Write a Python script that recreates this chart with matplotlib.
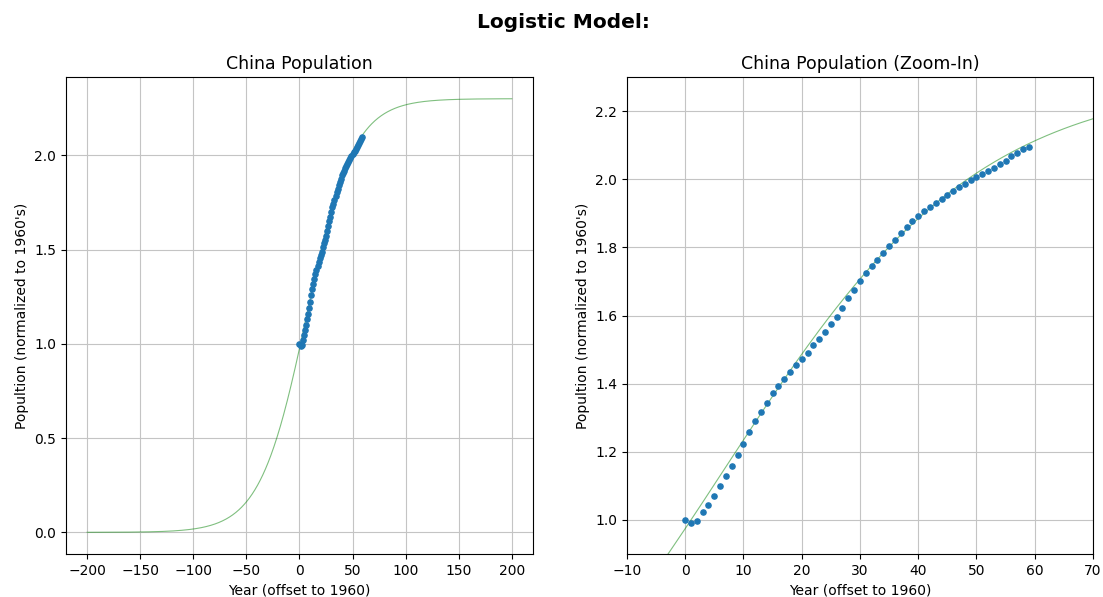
import matplotlib
matplotlib.use('Agg')
import matplotlib.pyplot as plt
import numpy as np

# year offsets to 1960 and population normalized to 1960
years = list(range(60))
population = [1.000, 0.990, 0.996, 1.022, 1.044, 1.071, 1.101, 1.130, 1.158, 1.190,
              1.224, 1.258, 1.289, 1.318, 1.343, 1.372, 1.392, 1.415, 1.435, 1.454,
              1.472, 1.489, 1.513, 1.532, 1.552, 1.574, 1.597, 1.623, 1.650, 1.675,
              1.701, 1.724, 1.744, 1.764, 1.783, 1.804, 1.823, 1.842, 1.860, 1.876,
              1.893, 1.908, 1.919, 1.930, 1.942, 1.954, 1.965, 1.977, 1.987, 1.997,
              2.006, 2.015, 2.025, 2.034, 2.044, 2.054, 2.067, 2.078, 2.088, 2.095]

# fitted logistic model parameters
K = 2.30      # carrying capacity
r = 0.0455    # growth rate
t_mid = 6.76  # midpoint year offset


def logistic(t):
    return K / (1 + np.exp(-r * (t - t_mid)))


t_model = np.linspace(-200, 200, 801)

fig = plt.figure(figsize=(11.03, 5.97), dpi=100)
fig.suptitle('Logistic Model:', fontsize=14.5, fontweight='bold', x=0.511, y=0.978)

ax1 = fig.add_axes([0.0598, 0.072, 0.4234, 0.799])
ax2 = fig.add_axes([0.5684, 0.072, 0.4225, 0.799])

for ax in (ax1, ax2):
    ax.plot(t_model, logistic(t_model), 'g-', lw=0.8, alpha=0.5)
    ax.plot(years, population, '.', color='#1f77b4', ms=7.5)
    ax.grid(True, color='#c4c4c4')
    ax.set_xlabel('Year (offset to 1960)')
    ax.set_ylabel("Popultion (normalized to 1960's)")

ax1.set_title('China Population', fontsize=12.5)
ax1.set_xlim(-220, 220)
ax1.set_ylim(-0.115, 2.415)
ax1.set_xticks(range(-200, 201, 50))

ax2.set_title('China Population (Zoom-In)', fontsize=12.5)
ax2.set_xlim(-10, 70)
ax2.set_ylim(0.9, 2.3)

fig.savefig('out.png', dpi=100)
